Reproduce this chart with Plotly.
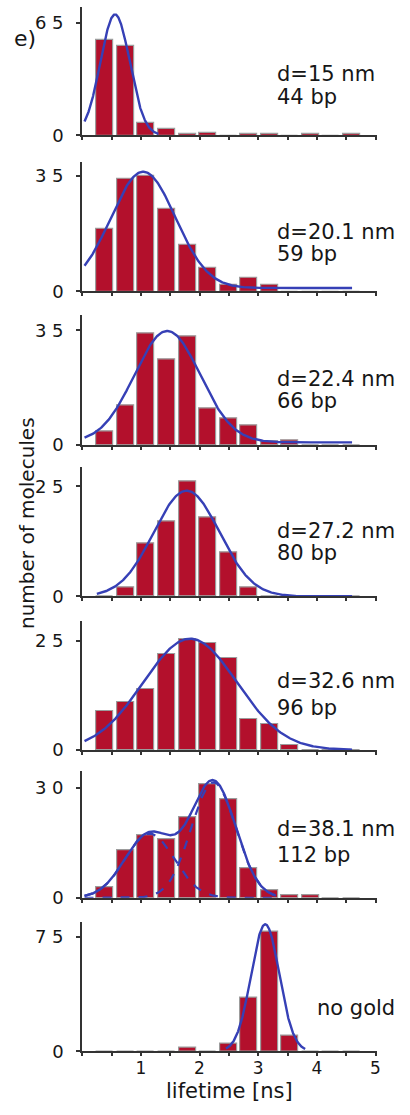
import numpy as np
import plotly.graph_objects as go

# Histogram bin centres (lifetime, ns)
bin_centers = [0.39, 0.74, 1.09, 1.44, 1.79, 2.14, 2.49, 2.84, 3.19, 3.54, 3.89, 4.24, 4.59]

# Counts per distance
counts_15nm = [55, 52, 7, 4, 0.7, 1.2, 0, 0.7, 0.7, 0, 0.7, 0, 0.7]
counts_20nm = [19, 34, 35, 25, 14, 7, 2, 4, 2, 0, 0, 0, 0]
counts_22nm = [4, 12, 34, 26, 33, 11, 8, 6, 1, 1.5, 0, 0, 0]
counts_27nm = [0, 2, 12, 17, 26, 18, 10, 2, 0, 0, 0, 0, 0]
counts_32nm = [9, 11, 14, 22, 25.5, 24.5, 21, 7, 6, 1, 0, 0, 0]
counts_38nm = [3, 13, 17, 16, 22, 31, 27, 8, 2, 0.6, 0.6, 0, 0]
counts_nogold = [0, 0, 0, 0, 2.5, 0, 5, 35, 78, 10, 0, 0, 0]

# Gaussian fit parameters: (amplitude, centre, sigma, offset, x_start, x_end)
fit_15nm = (70, 0.56, 0.25, 0.0, 0.04, 1.30)
fit_20nm = (35.2, 1.04, 0.55, 1.0, 0.04, 4.60)
fit_22nm = (34, 1.45, 0.56, 0.8, 0.04, 4.60)
fit_27nm = (24, 1.78, 0.56, 0.0, 0.25, 4.60)
fit_32nm = (25.5, 1.84, 0.80, 0.0, 0.04, 4.60)
fit_38nm_a = (17.5, 1.15, 0.42, 0.0, 0.04, 3.30)
fit_38nm_b = (31.5, 2.24, 0.38, 0.0, 0.04, 3.30)
fit_nogold = (83, 3.12, 0.24, 0.0, 2.45, 3.80)

# Panel labels
label_top = ["d=15 nm", "d=20.1 nm", "d=22.4 nm", "d=27.2 nm", "d=32.6 nm", "d=38.1 nm", "no gold"]
label_bottom = ["44 bp", "59 bp", "66 bp", "80 bp", "96 bp", "112 bp", ""]

# Y tick (top value) of each panel and its label
y_top_tick = [65, 35, 35, 25, 25, 30, 75]
y_top_text = ["6 5", "3 5", "3 5", "2 5", "2 5", "3 0", "7 5"]

x_ticks = [0, 0.5, 1, 1.5, 2, 2.5, 3, 3.5, 4, 4.5, 5]
x_tick_text = ["", "", "1", "", "2", "", "3", "", "4", "", "5"]

W, H = 410, 1115

# Panel geometry in pixels: zero line, top tick, top of axis line
zero_px = [136.7, 294, 449, 601.7, 756.7, 906, 1060.7]
tick_px = [23.3, 177.3, 333.3, 490.7, 646.7, 795, 945]
top_px = [7, 163.3, 318.3, 471.7, 626.7, 778.3, 930]
label_y1 = [74.5, 234.5, 382.5, 535.5, 687.5, 836.7, 1017]
label_y2 = [97.5, 256.5, 404.5, 557.5, 714, 863, None]
label_x = [279, 279, 279, 279, 279, 279, 319]

X0_PX, X1_PX = 83, 381
X_MAX = 5.03

BAR_COLOR = "#b3102c"
BAR_EDGE = "#9c9c9c"
FIT_COLOR = "#3640b6"
AXIS_COLOR = "#333333"
TEXT_COLOR = "#161616"
FONT = "DejaVu Sans"


def gauss(p, n=300):
    a, mu, s, c, x0, x1 = p
    x = np.linspace(x0, x1, n)
    return x, c + a * np.exp(-((x - mu) ** 2) / (2 * s ** 2))


def py(y):
    return 1 - y / H


def px(x):
    return x / W


panel_counts = [counts_15nm, counts_20nm, counts_22nm, counts_27nm,
                counts_32nm, counts_38nm, counts_nogold]
panel_fits = [[fit_15nm], [fit_20nm], [fit_22nm], [fit_27nm], [fit_32nm],
              [fit_38nm_a, fit_38nm_b], [fit_nogold]]

fig = go.Figure()
layout = dict(
    width=W, height=H,
    margin=dict(l=0, r=0, t=0, b=0),
    paper_bgcolor="white", plot_bgcolor="rgba(0,0,0,0)",
    showlegend=False, bargap=0,
    font=dict(family=FONT, color=TEXT_COLOR),
)
annotations = []

for i in range(7):
    k = "" if i == 0 else str(i + 1)
    xa, ya = "x" + k, "y" + k
    y_max = y_top_tick[i] * (zero_px[i] - top_px[i]) / (zero_px[i] - tick_px[i])

    fig.add_trace(go.Bar(
        x=bin_centers, y=panel_counts[i], width=0.29,
        marker=dict(color=BAR_COLOR, line=dict(color=BAR_EDGE, width=1.2)),
        xaxis=xa, yaxis=ya, hoverinfo="skip",
    ))

    fits = panel_fits[i]
    if len(fits) == 1:
        xs, ys = gauss(fits[0])
        fig.add_trace(go.Scatter(x=xs, y=ys, mode="lines",
                                 line=dict(color=FIT_COLOR, width=2.4),
                                 xaxis=xa, yaxis=ya, cliponaxis=False))
    else:
        xs, ya_ = gauss(fits[0])
        _, yb_ = gauss(fits[1])
        for comp in (ya_, yb_):
            fig.add_trace(go.Scatter(x=xs, y=comp, mode="lines",
                                     line=dict(color=FIT_COLOR, width=2.2, dash="dash"),
                                     xaxis=xa, yaxis=ya, cliponaxis=False))
        fig.add_trace(go.Scatter(x=xs, y=ya_ + yb_, mode="lines",
                                 line=dict(color=FIT_COLOR, width=2.4),
                                 xaxis=xa, yaxis=ya, cliponaxis=False))

    bottom = i == 6
    layout["xaxis" + k] = dict(
        domain=[px(X0_PX), px(X1_PX)], range=[0, X_MAX], anchor=ya,
        showgrid=False, zeroline=False, showline=True,
        linecolor=AXIS_COLOR, linewidth=2,
        ticks="outside", ticklen=3, tickwidth=1.5, tickcolor=AXIS_COLOR,
        tickvals=x_ticks, ticktext=x_tick_text,
        showticklabels=bottom, ticklabelstandoff=-3,
        tickfont=dict(family=FONT, size=17, color=TEXT_COLOR),
        fixedrange=True,
    )
    layout["yaxis" + k] = dict(
        domain=[py(zero_px[i]), py(top_px[i])], range=[0, y_max], anchor=xa,
        showgrid=False, zeroline=False, showline=True,
        linecolor=AXIS_COLOR, linewidth=2,
        ticks="outside", ticklen=4, tickwidth=1.5, tickcolor=AXIS_COLOR,
        tickvals=[0, y_top_tick[i]], ticktext=["0", y_top_text[i]],
        tickfont=dict(family=FONT, size=18, color=TEXT_COLOR),
        ticklabelstandoff=9,
        fixedrange=True,
    )

    annotations.append(dict(
        x=px(label_x[i]), y=py(label_y1[i]), xref="paper", yref="paper",
        xanchor="left", yanchor="middle", showarrow=False, borderpad=0,
        text=label_top[i], font=dict(family=FONT, size=21, color=TEXT_COLOR)))
    if label_y2[i] is not None:
        annotations.append(dict(
            x=px(label_x[i]), y=py(label_y2[i]), xref="paper", yref="paper",
            xanchor="left", yanchor="middle", showarrow=False, borderpad=0,
            text=label_bottom[i], font=dict(family=FONT, size=21, color=TEXT_COLOR)))

# Shared axis titles and panel letter
annotations.append(dict(
    x=px(232), y=py(1101), xref="paper", yref="paper",
    xanchor="center", yanchor="middle", showarrow=False, borderpad=0,
    text="lifetime [ns]", font=dict(family=FONT, size=21, color=TEXT_COLOR)))
annotations.append(dict(
    x=px(28), y=py(528), xref="paper", yref="paper",
    xanchor="center", yanchor="middle", showarrow=False, textangle=-90,
    text="number of molecules", font=dict(family=FONT, size=20, color=TEXT_COLOR)))
annotations.append(dict(
    x=px(38), y=py(39), xref="paper", yref="paper",
    xanchor="right", yanchor="middle", showarrow=False,
    text="e)", font=dict(family=FONT, size=22, color=TEXT_COLOR)))

layout["annotations"] = annotations
fig.update_layout(**layout)

fig.write_html("out.html")
